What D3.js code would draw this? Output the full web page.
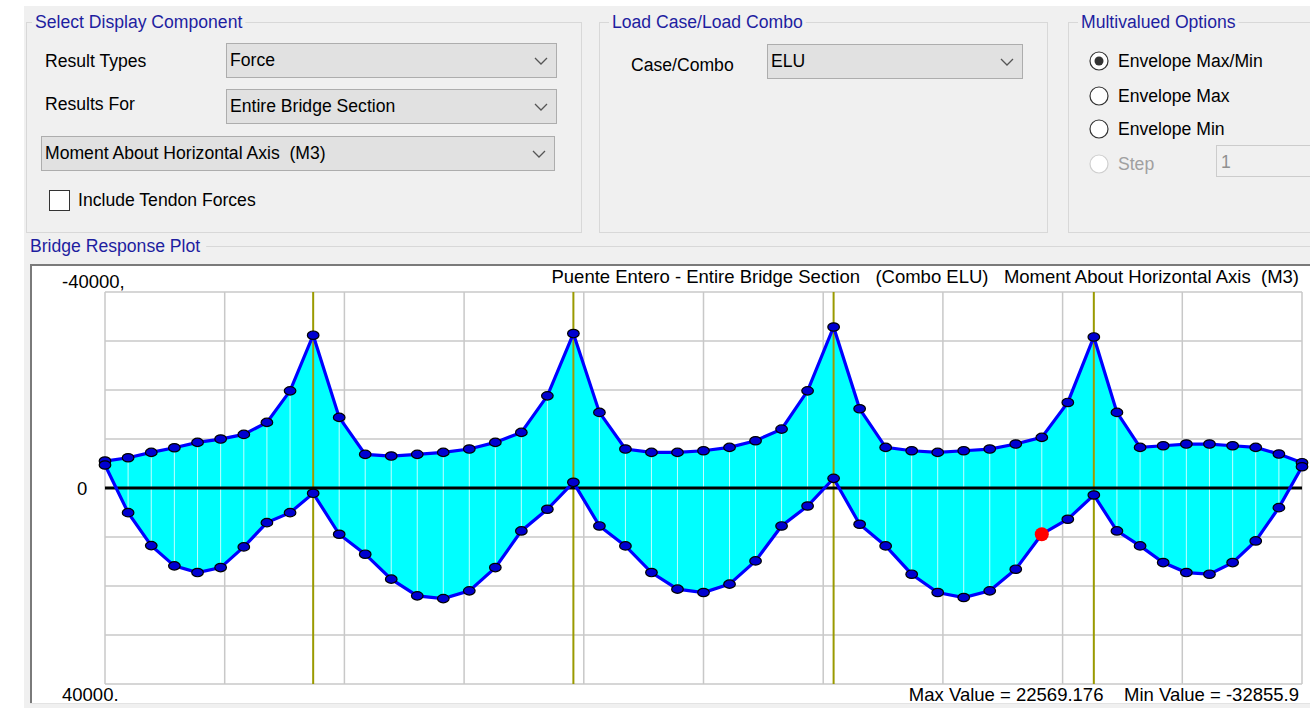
<!DOCTYPE html>
<html>
<head>
<meta charset="utf-8">
<script src="https://cdn.jsdelivr.net/npm/d3@7"></script>
<style>
body { margin: 0; background: #fff; overflow: hidden; }
text { font-family: "Liberation Sans", Arial, sans-serif; white-space: pre; }
</style>
</head>
<body>
<div id="chart"></div>
<script>
// stations along the bridge (m) - spans 40 / 50 / 50 / 50 / 40
var stations = [0, 4.44, 8.89, 13.33, 17.78, 22.22, 26.67, 31.11, 35.56, 40,
    45, 50, 55, 60, 65, 70, 75, 80, 85, 90,
    95, 100, 105, 110, 115, 120, 125, 130, 135, 140,
    145, 150, 155, 160, 165, 170, 175, 180, 185, 190,
    194.44, 198.89, 203.33, 207.78, 212.22, 216.67, 221.11, 225.56, 230];

// envelope min (drawn up, negative moments)
var momentMin = [-5500, -6170, -7270, -8210, -9310, -9985, -10940, -13390, -19830, -31180,
    -14410, -6870, -6520, -6870, -7270, -7950, -9310, -11350, -18810, -31520,
    -15430, -7950, -7270, -7270, -7600, -8290, -9640, -12020, -19830, -32856,
    -16160, -8290, -7600, -7270, -7600, -7950, -8970, -10330, -17460, -30830,
    -15430, -8290, -8620, -8970, -8970, -8620, -8290, -6930, -5160];

// envelope max (drawn down)
var momentMax = [-4690, 5030, 11760, 15890, 17260, 16240, 12020, 7070, 5030, 1080,
    9440, 13510, 18600, 22010, 22569, 20990, 16240, 8760, 4340, -1160,
    7740, 11820, 17260, 20640, 21330, 19620, 14880, 7740, 3670, -1970,
    7400, 11820, 17590, 21330, 22350, 20990, 16570, 9430, 6380, 1430,
    8760, 11820, 15220, 17260, 17590, 15220, 10800, 4010, -4340];

var supports = [40, 90, 140, 190];
var xGridTicks = [0, 23, 46, 69, 92, 115, 138, 161, 184, 207, 230];
var yGridTicks = [-40000, -30000, -20000, -10000, 0, 10000, 20000, 30000, 40000];
var yTickLabels = [[-40000, "-40000,"], [0, "0"], [40000, "40000."]];
var selectedStation = 180;
var selectedValue = 9430;

var plotTitle = "Puente Entero - Entire Bridge Section   (Combo ELU)   Moment About Horizontal Axis  (M3)";
var footer = "Max Value = 22569.176    Min Value = -32855.9";

var W = 1310, H = 708;
var bg = "#f0f0f0", navy = "#1e1ea0", frameCol = "#d8d8d8";
var uiFont = 17.6, plotFont = 18.5;

var svg = d3.select("#chart").append("svg").attr("width", W).attr("height", H);

// window background
svg.append("rect").attr("x", 0).attr("y", 0).attr("width", W).attr("height", H).attr("fill", "#fff");
svg.append("rect").attr("x", 24).attr("y", 6).attr("width", W - 24).attr("height", H - 6).attr("fill", bg);

// group box with title cut into the top border
function groupBox(x, y, w, h, title, tx) {
    svg.append("rect").attr("x", x + 0.5).attr("y", y + 0.5).attr("width", w).attr("height", h)
        .attr("fill", "none").attr("stroke", frameCol);
    var t = svg.append("text").attr("x", tx).attr("y", y + 6).attr("font-size", uiFont)
        .attr("fill", navy).text(title);
    var len = t.node().getComputedTextLength();
    svg.insert("rect", function () { return t.node(); })
        .attr("x", tx - 3).attr("y", y - 3).attr("width", len + 6).attr("height", 8).attr("fill", bg);
}

function label(x, y, s, col) {
    return svg.append("text").attr("x", x).attr("y", y).attr("font-size", uiFont)
        .attr("fill", col || "#000").text(s);
}

function combo(x, y, w, h, s) {
    svg.append("rect").attr("x", x + 0.5).attr("y", y + 0.5).attr("width", w).attr("height", h)
        .attr("fill", "#e1e1e1").attr("stroke", "#adadad");
    label(x + 4, y + h / 2 + 6, s);
    var cx = x + w - 15, cy = y + h / 2 + 1;
    svg.append("polyline").attr("points", [[cx - 6, cy - 3], [cx, cy + 3], [cx + 6, cy - 3]].join(" "))
        .attr("fill", "none").attr("stroke", "#555").attr("stroke-width", 1.3);
}

function radio(cx, cy, s, checked, disabled) {
    svg.append("circle").attr("cx", cx).attr("cy", cy).attr("r", 9)
        .attr("fill", "#fff").attr("stroke", disabled ? "#cfcfcf" : "#333").attr("stroke-width", 1.2);
    if (checked) svg.append("circle").attr("cx", cx).attr("cy", cy).attr("r", 4.5).attr("fill", "#333");
    label(cx + 19, cy + 6, s, disabled ? "#a0a0a0" : "#000");
}

// top panels
groupBox(26, 22, 555, 210, "Select Display Component", 35);
label(45, 67, "Result Types");
combo(226, 43, 330, 34, "Force");
label(45, 110, "Results For");
combo(226, 89, 330, 34, "Entire Bridge Section");
combo(41, 136, 513, 34, "Moment About Horizontal Axis  (M3)");
svg.append("rect").attr("x", 49.5).attr("y", 190.5).attr("width", 20).attr("height", 20)
    .attr("fill", "#fff").attr("stroke", "#333");
label(78, 206, "Include Tendon Forces");

groupBox(599, 22, 448, 210, "Load Case/Load Combo", 612);
label(631, 71, "Case/Combo");
combo(767, 44, 255, 34, "ELU");

groupBox(1068, 22, 260, 210, "Multivalued Options", 1081);
radio(1099, 61, "Envelope Max/Min", true, false);
radio(1099, 96, "Envelope Max", false, false);
radio(1099, 129, "Envelope Min", false, false);
radio(1099, 164, "Step", false, true);
svg.append("rect").attr("x", 1216.5).attr("y", 145.5).attr("width", 120).attr("height", 31)
    .attr("fill", "#f0f0f0").attr("stroke", "#cccccc");
label(1221, 168, "1", "#909090");

// Bridge Response Plot header
var hdr = label(30, 252, "Bridge Response Plot", navy);
var hl = hdr.node().getComputedTextLength();
svg.append("line").attr("x1", 30 + hl + 6).attr("x2", W).attr("y1", 246.5).attr("y2", 246.5).attr("stroke", frameCol);

// plot frame (sunken)
svg.append("rect").attr("x", 30).attr("y", 264).attr("width", W - 30).attr("height", 439).attr("fill", "#fff");
svg.append("path").attr("d", "M31,703V265H" + W).attr("fill", "none").attr("stroke", "#7a7a7a").attr("stroke-width", 2);
svg.append("line").attr("x1", 30).attr("x2", W).attr("y1", 703.5).attr("y2", 703.5).attr("stroke", "#e3e3e3");

// scales
var x = d3.scaleLinear().domain([0, 230]).range([105, 1302]);
var y = d3.scaleLinear().domain([-40000, 40000]).range([292, 684]);

var plot = svg.append("g");

// grid
plot.selectAll(".vgrid").data(xGridTicks).enter().append("line")
    .attr("x1", function (d) { return x(d); }).attr("x2", function (d) { return x(d); })
    .attr("y1", y(-40000)).attr("y2", y(40000))
    .attr("stroke", "#c8c8c8").attr("stroke-width", 1.5);
plot.selectAll(".hgrid").data(yGridTicks).enter().append("line")
    .attr("x1", x(0)).attr("x2", x(230))
    .attr("y1", function (d) { return y(d); }).attr("y2", function (d) { return y(d); })
    .attr("stroke", "#c8c8c8").attr("stroke-width", 1.5);

var pts = stations.map(function (s, i) { return { s: s, lo: momentMin[i], hi: momentMax[i] }; });

// envelope fill
var area = d3.area().x(function (d) { return x(d.s); })
    .y0(function (d) { return y(d.lo); }).y1(function (d) { return y(d.hi); });
plot.append("path").datum(pts).attr("d", area).attr("fill", "#00ffff");

// station hatch lines
plot.selectAll(".st").data(pts).enter().append("line")
    .attr("x1", function (d) { return x(d.s); }).attr("x2", function (d) { return x(d.s); })
    .attr("y1", function (d) { return y(d.lo); }).attr("y2", function (d) { return y(d.hi); })
    .attr("stroke", "#c0ffff").attr("stroke-width", 1);

// supports
plot.selectAll(".sup").data(supports).enter().append("line")
    .attr("x1", function (d) { return x(d); }).attr("x2", function (d) { return x(d); })
    .attr("y1", y(-40000)).attr("y2", y(40000))
    .attr("stroke", "#9a9a00").attr("stroke-width", 2);

// zero line
plot.append("line").attr("x1", x(0)).attr("x2", x(230)).attr("y1", y(0)).attr("y2", y(0))
    .attr("stroke", "#000").attr("stroke-width", 3);

// envelope curves + markers
["lo", "hi"].forEach(function (k) {
    var line = d3.line().x(function (d) { return x(d.s); }).y(function (d) { return y(d[k]); });
    plot.append("path").datum(pts).attr("d", line).attr("fill", "none")
        .attr("stroke", "#0000ff").attr("stroke-width", 3.2);
});
["lo", "hi"].forEach(function (k) {
    plot.selectAll(".m" + k).data(pts).enter().append("ellipse")
        .attr("cx", function (d) { return x(d.s); }).attr("cy", function (d) { return y(d[k]); })
        .attr("rx", 5.8).attr("ry", 4.2)
        .attr("fill", "#0000d0").attr("stroke", "#000").attr("stroke-width", 1.2);
});

// selected point
plot.append("circle").attr("cx", x(selectedStation)).attr("cy", y(selectedValue)).attr("r", 7)
    .attr("fill", "#ff0000");

// axis labels
yTickLabels.forEach(function (t) {
    var off = t[0] < 0 ? -4 : (t[0] > 0 ? 17 : 7);
    svg.append("text").attr("x", t[0] === 0 ? 77 : 62).attr("y", y(t[0]) + off)
        .attr("font-size", plotFont).attr("fill", "#000").text(t[1]);
});

svg.append("text").attr("x", 1299).attr("y", 283).attr("text-anchor", "end")
    .attr("font-size", plotFont).attr("fill", "#000").text(plotTitle);
svg.append("text").attr("x", 1299).attr("y", 701).attr("text-anchor", "end")
    .attr("font-size", plotFont).attr("fill", "#000").text(footer);
</script>
</body>
</html>
